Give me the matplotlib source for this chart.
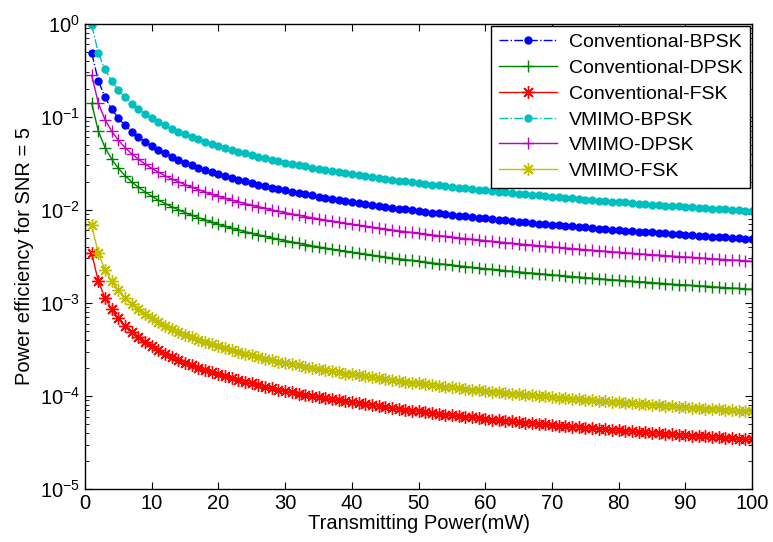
import matplotlib
matplotlib.use('Agg')
import matplotlib.pyplot as plt
import numpy as np

plt.rcParams['font.family'] = ['Liberation Sans', 'DejaVu Sans']

# transmitting power (mW)
power = list(range(1, 101))

vmimo_bpsk = [0.97, 0.485, 0.323, 0.243, 0.194, 0.162, 0.139, 0.121, 0.108, 0.097,
              0.0882, 0.0808, 0.0746, 0.0693, 0.0647, 0.0606, 0.0571, 0.0539, 0.0511, 0.0485,
              0.0462, 0.0441, 0.0422, 0.0404, 0.0388, 0.0373, 0.0359, 0.0346, 0.0334, 0.0323,
              0.0313, 0.0303, 0.0294, 0.0285, 0.0277, 0.0269, 0.0262, 0.0255, 0.0249, 0.0243,
              0.0237, 0.0231, 0.0226, 0.022, 0.0216, 0.0211, 0.0206, 0.0202, 0.0198, 0.0194,
              0.019, 0.0187, 0.0183, 0.018, 0.0176, 0.0173, 0.017, 0.0167, 0.0164, 0.0162,
              0.0159, 0.0156, 0.0154, 0.0152, 0.0149, 0.0147, 0.0145, 0.0143, 0.0141, 0.0139,
              0.0137, 0.0135, 0.0133, 0.0131, 0.0129, 0.0128, 0.0126, 0.0124, 0.0123, 0.0121,
              0.012, 0.0118, 0.0117, 0.0115, 0.0114, 0.0113, 0.0111, 0.011, 0.0109, 0.0108,
              0.0107, 0.0105, 0.0104, 0.0103, 0.0102, 0.0101, 0.01, 0.0099, 0.0098, 0.0097]

conv_bpsk = [0.485, 0.243, 0.162, 0.121, 0.097, 0.0808, 0.0693, 0.0606, 0.0539, 0.0485,
             0.0441, 0.0404, 0.0373, 0.0346, 0.0323, 0.0303, 0.0285, 0.0269, 0.0255, 0.0243,
             0.0231, 0.022, 0.0211, 0.0202, 0.0194, 0.0187, 0.018, 0.0173, 0.0167, 0.0162,
             0.0156, 0.0152, 0.0147, 0.0143, 0.0139, 0.0135, 0.0131, 0.0128, 0.0124, 0.0121,
             0.0118, 0.0115, 0.0113, 0.011, 0.0108, 0.0105, 0.0103, 0.0101, 0.0099, 0.0097,
             0.00951, 0.00933, 0.00915, 0.00898, 0.00882, 0.00866, 0.00851, 0.00836, 0.00822, 0.00808,
             0.00795, 0.00782, 0.0077, 0.00758, 0.00746, 0.00735, 0.00724, 0.00713, 0.00703, 0.00693,
             0.00683, 0.00674, 0.00664, 0.00655, 0.00647, 0.00638, 0.0063, 0.00622, 0.00614, 0.00606,
             0.00599, 0.00591, 0.00584, 0.00577, 0.00571, 0.00564, 0.00557, 0.00551, 0.00545, 0.00539,
             0.00533, 0.00527, 0.00522, 0.00516, 0.00511, 0.00505, 0.005, 0.00495, 0.0049, 0.00485]

vmimo_dpsk = [0.28, 0.14, 0.0933, 0.07, 0.056, 0.0467, 0.04, 0.035, 0.0311, 0.028,
              0.0255, 0.0233, 0.0215, 0.02, 0.0187, 0.0175, 0.0165, 0.0156, 0.0147, 0.014,
              0.0133, 0.0127, 0.0122, 0.0117, 0.0112, 0.0108, 0.0104, 0.01, 0.00966, 0.00933,
              0.00903, 0.00875, 0.00848, 0.00824, 0.008, 0.00778, 0.00757, 0.00737, 0.00718, 0.007,
              0.00683, 0.00667, 0.00651, 0.00636, 0.00622, 0.00609, 0.00596, 0.00583, 0.00571, 0.0056,
              0.00549, 0.00538, 0.00528, 0.00519, 0.00509, 0.005, 0.00491, 0.00483, 0.00475, 0.00467,
              0.00459, 0.00452, 0.00444, 0.00438, 0.00431, 0.00424, 0.00418, 0.00412, 0.00406, 0.004,
              0.00394, 0.00389, 0.00384, 0.00378, 0.00373, 0.00368, 0.00364, 0.00359, 0.00354, 0.0035,
              0.00346, 0.00341, 0.00337, 0.00333, 0.00329, 0.00326, 0.00322, 0.00318, 0.00315, 0.00311,
              0.00308, 0.00304, 0.00301, 0.00298, 0.00295, 0.00292, 0.00289, 0.00286, 0.00283, 0.0028]

conv_dpsk = [0.14, 0.07, 0.0467, 0.035, 0.028, 0.0233, 0.02, 0.0175, 0.0156, 0.014,
             0.0127, 0.0117, 0.0108, 0.01, 0.00933, 0.00875, 0.00824, 0.00778, 0.00737, 0.007,
             0.00667, 0.00636, 0.00609, 0.00583, 0.0056, 0.00538, 0.00519, 0.005, 0.00483, 0.00467,
             0.00452, 0.00438, 0.00424, 0.00412, 0.004, 0.00389, 0.00378, 0.00368, 0.00359, 0.0035,
             0.00341, 0.00333, 0.00326, 0.00318, 0.00311, 0.00304, 0.00298, 0.00292, 0.00286, 0.0028,
             0.00275, 0.00269, 0.00264, 0.00259, 0.00255, 0.0025, 0.00246, 0.00241, 0.00237, 0.00233,
             0.0023, 0.00226, 0.00222, 0.00219, 0.00215, 0.00212, 0.00209, 0.00206, 0.00203, 0.002,
             0.00197, 0.00194, 0.00192, 0.00189, 0.00187, 0.00184, 0.00182, 0.00179, 0.00177, 0.00175,
             0.00173, 0.00171, 0.00169, 0.00167, 0.00165, 0.00163, 0.00161, 0.00159, 0.00157, 0.00156,
             0.00154, 0.00152, 0.00151, 0.00149, 0.00147, 0.00146, 0.00144, 0.00143, 0.00141, 0.0014]

vmimo_fsk = [0.0068, 0.0034, 0.00227, 0.0017, 0.00136, 0.00113, 0.000971, 0.00085, 0.000756, 0.00068,
             0.000618, 0.000567, 0.000523, 0.000486, 0.000453, 0.000425, 0.0004, 0.000378, 0.000358, 0.00034,
             0.000324, 0.000309, 0.000296, 0.000283, 0.000272, 0.000262, 0.000252, 0.000243, 0.000234, 0.000227,
             0.000219, 0.000213, 0.000206, 0.0002, 0.000194, 0.000189, 0.000184, 0.000179, 0.000174, 0.00017,
             0.000166, 0.000162, 0.000158, 0.000155, 0.000151, 0.000148, 0.000145, 0.000142, 0.000139, 0.000136,
             0.000133, 0.000131, 0.000128, 0.000126, 0.000124, 0.000121, 0.000119, 0.000117, 0.000115, 0.000113,
             0.000111, 0.00011, 0.000108, 0.000106, 0.000105, 0.000103, 0.000101, 0.0001, 9.86e-5, 9.71e-5,
             9.58e-5, 9.44e-5, 9.32e-5, 9.19e-5, 9.07e-5, 8.95e-5, 8.83e-5, 8.72e-5, 8.61e-5, 8.5e-5,
             8.4e-5, 8.29e-5, 8.19e-5, 8.1e-5, 8e-5, 7.91e-5, 7.82e-5, 7.73e-5, 7.64e-5, 7.56e-5,
             7.47e-5, 7.39e-5, 7.31e-5, 7.23e-5, 7.16e-5, 7.08e-5, 7.01e-5, 6.94e-5, 6.87e-5, 6.8e-5]

conv_fsk = [0.0034, 0.0017, 0.00113, 0.00085, 0.00068, 0.000567, 0.000486, 0.000425, 0.000378, 0.00034,
            0.000309, 0.000283, 0.000262, 0.000243, 0.000227, 0.000213, 0.0002, 0.000189, 0.000179, 0.00017,
            0.000162, 0.000155, 0.000148, 0.000142, 0.000136, 0.000131, 0.000126, 0.000121, 0.000117, 0.000113,
            0.00011, 0.000106, 0.000103, 0.0001, 9.71e-5, 9.44e-5, 9.19e-5, 8.95e-5, 8.72e-5, 8.5e-5,
            8.29e-5, 8.1e-5, 7.91e-5, 7.73e-5, 7.56e-5, 7.39e-5, 7.23e-5, 7.08e-5, 6.94e-5, 6.8e-5,
            6.67e-5, 6.54e-5, 6.42e-5, 6.3e-5, 6.18e-5, 6.07e-5, 5.96e-5, 5.86e-5, 5.76e-5, 5.67e-5,
            5.57e-5, 5.48e-5, 5.4e-5, 5.31e-5, 5.23e-5, 5.15e-5, 5.07e-5, 5e-5, 4.93e-5, 4.86e-5,
            4.79e-5, 4.72e-5, 4.66e-5, 4.59e-5, 4.53e-5, 4.47e-5, 4.42e-5, 4.36e-5, 4.3e-5, 4.25e-5,
            4.2e-5, 4.15e-5, 4.1e-5, 4.05e-5, 4e-5, 3.95e-5, 3.91e-5, 3.86e-5, 3.82e-5, 3.78e-5,
            3.74e-5, 3.7e-5, 3.66e-5, 3.62e-5, 3.58e-5, 3.54e-5, 3.51e-5, 3.47e-5, 3.43e-5, 3.4e-5]

asterisk = (8, 2, 0)
fs = 14.5

fig = plt.figure(figsize=(7.73, 5.42), dpi=100)
ax = fig.add_axes([0.110, 0.098, 0.863, 0.858])

ax.semilogy(power, conv_bpsk, '-.', color='b', marker='o', ms=6, mew=0, lw=1, label='Conventional-BPSK')
ax.semilogy(power, conv_dpsk, '-', color=(0, 0.5, 0), marker='+', ms=9, mew=1, lw=1, label='Conventional-DPSK')
ax.semilogy(power, conv_fsk, '-', color='r', marker=asterisk, ms=9, mew=1, lw=1, label='Conventional-FSK')
ax.semilogy(power, vmimo_bpsk, '-.', color=(0, 0.75, 0.75), marker='o', ms=6, mew=0, lw=1, label='VMIMO-BPSK')
ax.semilogy(power, vmimo_dpsk, '-', color=(0.75, 0, 0.75), marker='+', ms=9, mew=1, lw=1, label='VMIMO-DPSK')
ax.semilogy(power, vmimo_fsk, '-', color=(0.75, 0.75, 0), marker=asterisk, ms=9, mew=1, lw=1, label='VMIMO-FSK')

ax.set_xlim(0, 100)
ax.set_ylim(1e-5, 1e0)
ax.set_xticks(np.arange(0, 101, 10))
ax.tick_params(which='both', direction='in', top=True, right=True, labelsize=fs)
ax.tick_params(which='major', length=5)
ax.tick_params(which='minor', length=3)
for s in ax.spines.values():
    s.set_linewidth(1)

ax.set_xlabel('Transmitting Power(mW)', fontsize=fs, labelpad=1)
ax.set_ylabel('Power efficiency for SNR = 5', fontsize=fs, labelpad=4)

leg = ax.legend(loc='upper right', numpoints=1, fancybox=False, shadow=False, fontsize=14,
                edgecolor='k', framealpha=1, borderaxespad=0.1, handlelength=3.0,
                handletextpad=0.6, labelspacing=0.42, borderpad=0.4)
leg.get_frame().set_linewidth(1)

fig.savefig('out.png', dpi=100)
